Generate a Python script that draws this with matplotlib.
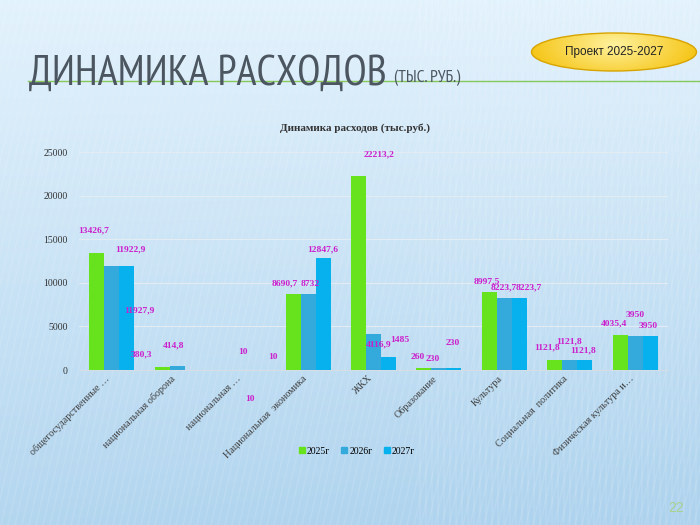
import numpy as np
import matplotlib
matplotlib.use("Agg")
import matplotlib.pyplot as plt
from matplotlib.patches import Ellipse
from matplotlib.lines import Line2D

categories = ["общегосударственные …", "национальная оборона", "национальная …",
              "Национальная  экономика", "ЖКХ", "Образование", "Культура",
              "Социальная  политика", "Физическая культура и…"]
series_names = ["2025г", "2026г", "2027г"]
v2025 = [13426.7, 380.3, 10, 8690.7, 22213.2, 260, 8997.5, 1121.8, 4035.4]
v2026 = [11922.9, 414.8, 10, 8732, 4116.9, 230, 8223.7, 1121.8, 3950]
v2027 = [11927.9, np.nan, 10, 12847.6, 1485, 230, 8223.7, 1121.8, 3950]
yticks = [0, 5000, 10000, 15000, 20000, 25000]

# label offsets (pixels, dx, dy-up) per series, per category -- styling only
offs = [
    [(-3, 22), (-21, 12), (15, 18), (-8, 11), (21, 22), (-6, 11), (-3, 10), (-8, 13), (-6, 11)],
    [(19, 17), (-4, 21), (7, -29), (2, 10), (5, -10), (-6, 9), (-1, 11), (-1, 19), (0, 21)],
    [(13, -44), (0, 0), (15, 13), (0, 9), (11, 17), (-1, 25), (9, 11), (-2, 10), (-2, 10)],
]

colors = ["#66E31C", "#33A9DC", "#07B1EE"]
label_color = "#CC1FCC"
narrow = ["PT Sans Narrow", "Roboto Condensed", "DejaVu Sans"]

def fmt(v):
    if float(v).is_integer():
        return str(int(v))
    return f"{v:.1f}".replace(".", ",")

W, H = 700, 525
fig = plt.figure(figsize=(7, 5.25), dpi=100)

# background
bg = fig.add_axes([0, 0, 1, 1], zorder=-10)
yy = np.linspace(0, 1, 300)[:, None]
xx = np.linspace(0, 1, 400)[None, :]
top = np.array([0.89, 0.95, 0.99])
bot = np.array([0.67, 0.82, 0.93])
t = np.clip(0.85 * yy + 0.12 * xx * yy, 0, 1)
img = top[None, None, :] * (1 - t[..., None]) + bot[None, None, :] * t[..., None]
bg.imshow(img, extent=[0, W, H, 0], aspect="auto")
# subtle stripes
for x0 in np.arange(-300, 700, 7):
    bg.plot([x0, x0 + 120], [H, 0], color="white", alpha=0.10, lw=1.2)
for x0 in np.arange(420, 700, 6):
    bg.plot([x0, x0], [0, H], color="white", alpha=0.10, lw=1.2)
bg.set_xlim(0, W)
bg.set_ylim(H, 0)
bg.axis("off")

# header line
bg.plot([28, 700], [81, 81], color="#86C95A", lw=1.0)
bg.text(29, 85, "ДИНАМИКА РАСХОДОВ", fontsize=30.4, color="#4B5660",
        family=narrow, va="baseline", ha="left")
bg.text(394, 82, "(ТЫС. РУБ.)", fontsize=12.5, color="#4B5660",
        family=narrow, va="baseline", ha="left")

# yellow ellipse
ell = Ellipse((614, 52), 165, 38, facecolor="none", edgecolor="#D8A400", lw=1.0, zorder=5)
bg.add_patch(ell)
ey = np.linspace(0, 1, 60)[:, None]
ex = np.linspace(-1, 1, 120)[None, :]
r = np.clip(np.sqrt(ex ** 2 + (ey - 0.3) ** 2) / 1.1, 0, 1)
c0 = np.array([1.0, 0.95, 0.62])
c1 = np.array([0.96, 0.76, 0.05])
eimg = c0[None, None, :] * (1 - r[..., None]) + c1[None, None, :] * r[..., None]
im = bg.imshow(eimg, extent=[531, 697, 71, 33], aspect="auto", zorder=4)
clip = Ellipse((614, 52), 165, 38, transform=bg.transData)
im.set_clip_path(clip)
bg.text(614, 52, "Проект 2025-2027", fontsize=8.5, color="#222222",
        family="Liberation Sans", ha="center", va="center", zorder=6)

# page number
bg.text(676, 508, "22", fontsize=10, color="#A9D18E", family="Liberation Sans",
        ha="center", va="center")

# chart
ax = fig.add_axes([79 / W, 1 - 370 / H, 589 / W, 218 / H])
ax.set_facecolor("none")
x = np.arange(len(categories))
bw = 0.229
series = [v2025, v2026, v2027]
for k, vals in enumerate(series):
    xs = x + (k - 1) * bw
    ax.bar(xs, np.nan_to_num(vals), width=bw, color=colors[k], zorder=3,
           label=series_names[k])
    for i, v in enumerate(vals):
        if np.isnan(v):
            continue
        dx, dy = offs[k][i]
        ax.annotate(fmt(v), (xs[i], v), xytext=(dx, dy), textcoords="offset pixels",
                    ha="center", va="center", fontsize=6.8, fontweight="bold",
                    color=label_color, family="Liberation Serif", zorder=5,
                    annotation_clip=False)

ax.set_xlim(-0.5, len(categories) - 0.5)
ax.set_ylim(0, 25000)
ax.set_yticks(yticks)
ax.set_yticklabels([str(v) for v in yticks], family="Liberation Serif", fontsize=7,
                   color="#333333")
ax.set_xticks(x)
ax.set_xticklabels(categories, rotation=45, ha="right", rotation_mode="default",
                   family="Liberation Serif", fontsize=7.3, color="#404040")
ax.tick_params(axis="both", length=0)
ax.tick_params(axis="y", pad=8)
ax.tick_params(axis="x", pad=3)
ax.grid(axis="y", color="#E2ECF2", lw=0.8, zorder=0)
for s in ["top", "right", "left"]:
    ax.spines[s].set_visible(False)
ax.spines["bottom"].set_color("#D4DEE4")
ax.spines["bottom"].set_linewidth(0.8)

fig.text(355 / W, 1 - 128 / H, "Динамика расходов (тыс.руб.)", ha="center", va="center",
         fontsize=8, fontweight="bold", color="#333333", family="Liberation Serif")

handles = [Line2D([], [], marker="s", ls="none", markersize=4, color=c) for c in colors]
fig.legend(handles, series_names, loc="center", bbox_to_anchor=(357 / W, 1 - 451 / H),
           ncol=3, frameon=False, handlelength=0.6, handletextpad=0.2, columnspacing=1.2,
           prop={"family": "Liberation Serif", "size": 7})

fig.savefig("out.png", dpi=100)
